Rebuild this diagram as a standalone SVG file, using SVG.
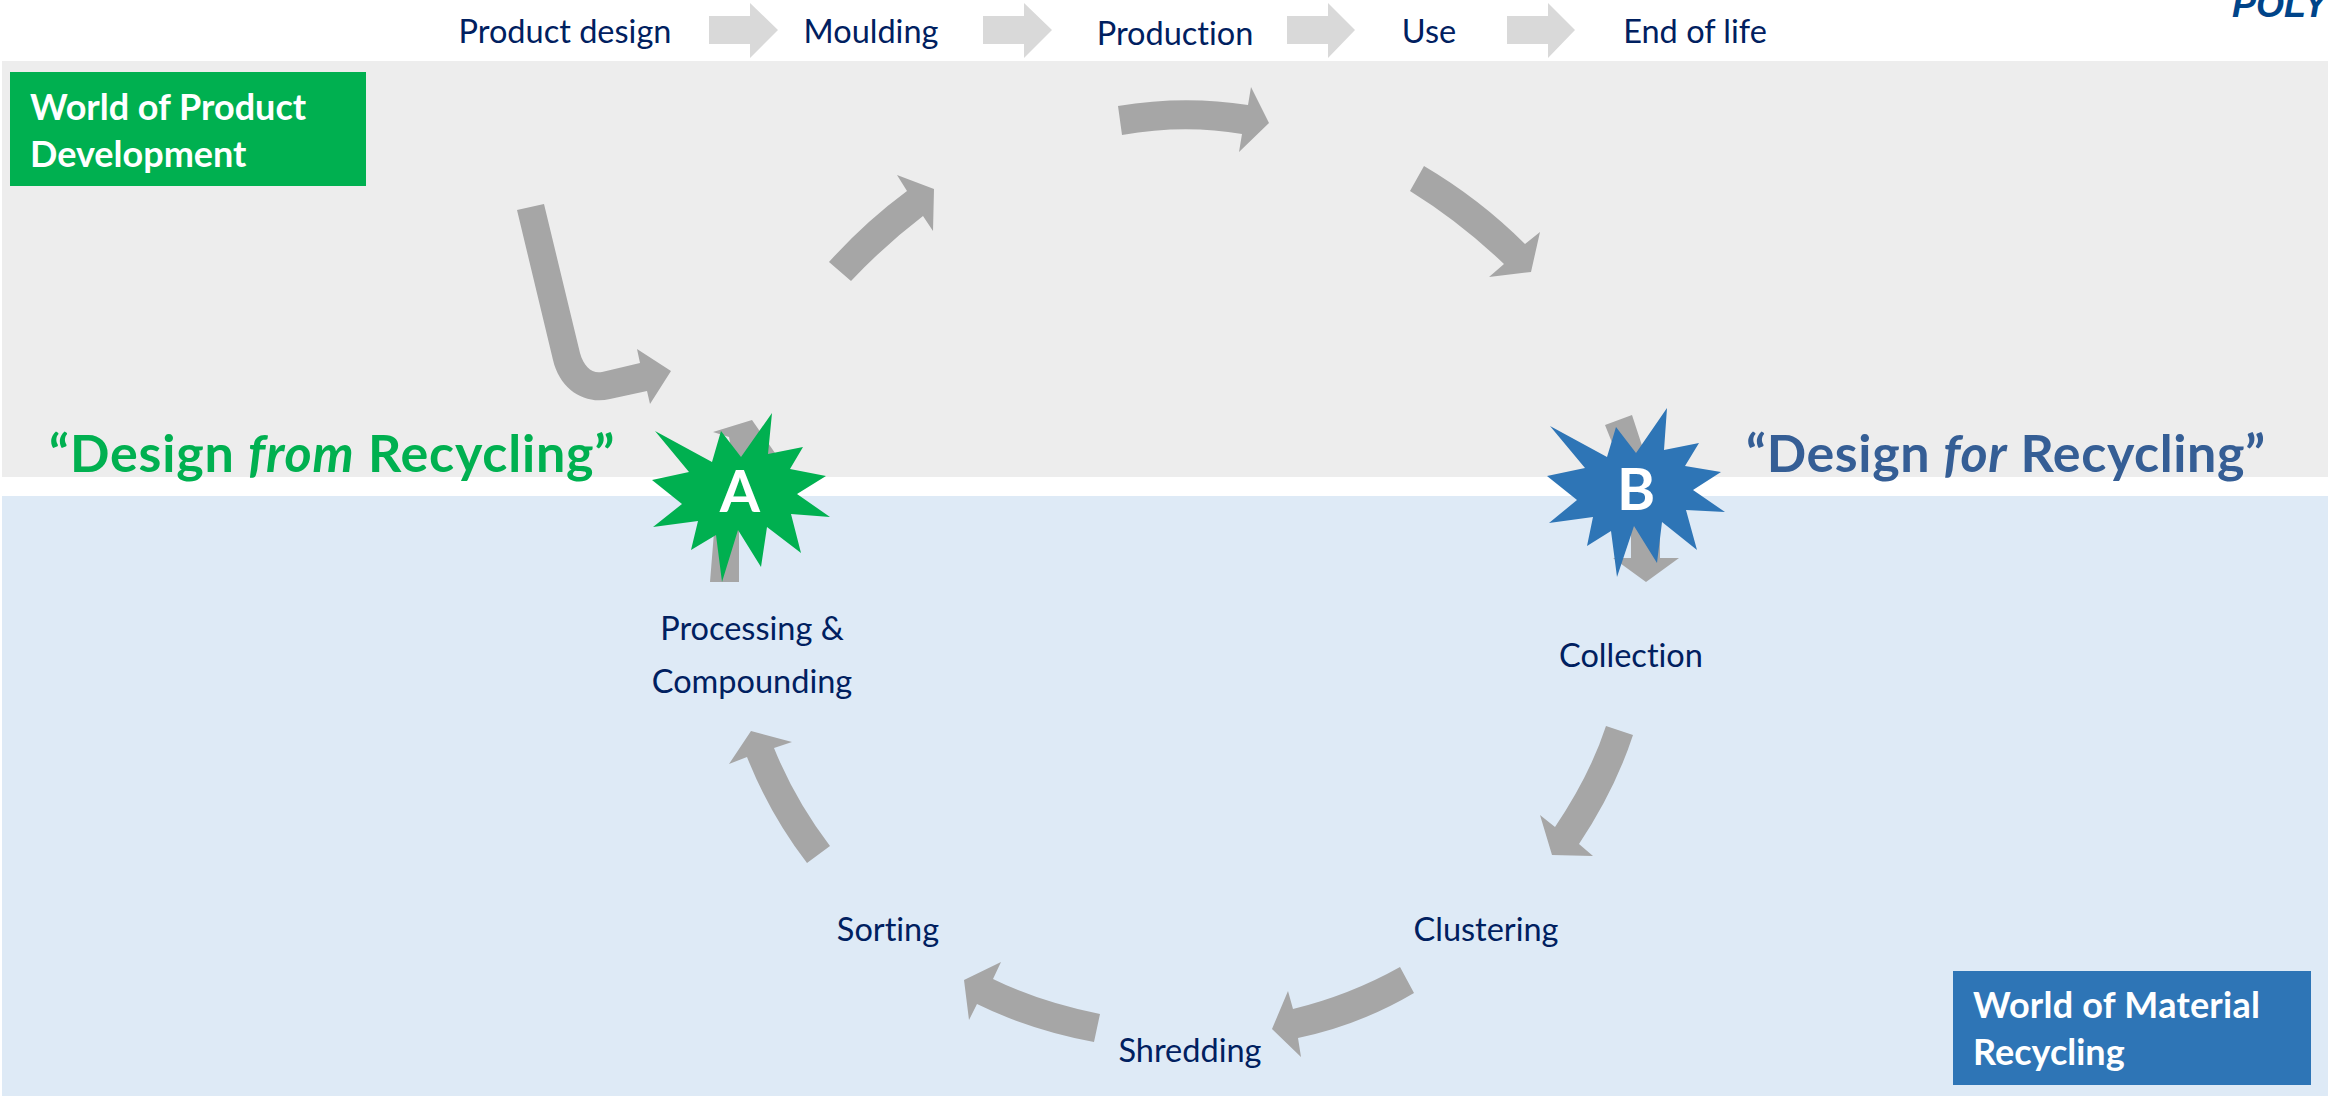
<svg xmlns="http://www.w3.org/2000/svg" width="2328" height="1096" viewBox="0 0 2328 1096">
<style>
text{font-variant-ligatures:none}
.lb{font-family:Lato,"Open Sans",sans-serif;font-size:32.5px;fill:#002060;text-anchor:middle}
.ch{fill:#d9d9d9}
.ar{fill:#a6a6a6}
.hd{font-family:Lato,"Open Sans",sans-serif;font-size:36px;font-weight:700;fill:#fff}
.qt{font-family:Lato,"Open Sans",sans-serif;font-size:52px;font-weight:700}
.st{font-family:Lato,"Open Sans",sans-serif;font-size:58px;font-weight:700;fill:#fff;text-anchor:middle}
</style>
<rect width="2328" height="1096" fill="#fff"/>
<rect id="band-product" x="2" y="61" width="2326" height="416" fill="#ededed"/>
<rect id="band-material" x="2" y="496" width="2326" height="600" fill="#deeaf6"/>
<text x="2232" y="17" font-family="Liberation Sans,sans-serif" font-size="36" font-weight="700" font-style="italic" fill="#004489">POLY</text>
<g id="connectors">
<path class="ch" d="M709 16H750V3L778 30L750 58V44H709Z"/>
<path class="ch" d="M983 16H1024V3L1052 30L1024 58V44H983Z"/>
<path class="ch" d="M1287 16H1328V3L1355 30L1328 58V44H1287Z"/>
<path class="ch" d="M1507 16H1548V3L1575 30L1548 58V44H1507Z"/>
<path class="ar" d="M517 210L544 204L580 353C584 367 592 374 602 372L640 363L637 349L671 371L650 404L647 391L610 399C585 405 560 390 553 360Z"/>
<path class="ar" d="M829 262Q865 222 907 191L897 175L934 189L933 231L923 216Q885 245 851 281Z"/>
<path class="ar" d="M1118 106Q1184 95 1248 105L1251 87L1269 123L1239 152L1242 134Q1184 124 1122 135Z"/>
<path class="ar" d="M1424 166Q1480 199 1525 244L1540 232L1531 272L1489 277L1504 264Q1460 222 1410 191Z"/>
<path class="ar" d="M710 582H739V520L745 470L775 453L752 420L713 432L729 437L735 470L715 520Z"/>
<path class="ar" d="M1605 425L1632 415L1650 470L1660 520V558H1679L1646 582L1613 558H1631V500L1615 450Z"/>
<path class="ar" d="M1606 726L1633 735Q1615 790 1579 844L1593 856L1552 855L1540 815L1555 827Q1590 775 1606 726Z"/>
<path class="ar" d="M1400 967L1414 993Q1360 1025 1298 1038L1301 1057L1272 1029L1288 991L1293 1009Q1350 995 1400 967Z"/>
<path class="ar" d="M1100 1014L1094 1042Q1030 1030 977 1004L969 1020L964 980L1001 962L993 979Q1040 1002 1100 1014Z"/>
<path class="ar" d="M830 846L807 863Q770 815 747 757L729 764L751 731L792 742L774 748Q795 800 830 846Z"/>
</g>
<text class="lb" x="565" y="43">Product design</text>
<text class="lb" x="871" y="43">Moulding</text>
<text class="lb" x="1175" y="45">Production</text>
<text class="lb" x="1429" y="43">Use</text>
<text class="lb" x="1695" y="43">End of life</text>
<g id="world-product"><rect x="10" y="72" width="356" height="114" fill="#00b050"/><text class="hd" x="30" y="120">World of Product</text><text class="hd" x="30" y="167">Development</text></g>
<text class="qt" x="49" y="472" fill="#00b050" letter-spacing="0.8">“Design <tspan font-style="italic">from</tspan> Recycling”</text>
<text class="qt" x="1746" y="472" fill="#355e95" letter-spacing="0.6">“Design <tspan font-style="italic">for</tspan> Recycling”</text>
<g id="star-a"><polygon fill="#00b050" points="772,413 768,454 803,447 790,469 826,476 797,494 830,517 791,514 801,553 767,527 761,567 738,530 722,582 716,535 691,550 698,521 653,527 682,504 652,480 689,472 655,431 712,462 721,431 741,457"/><text class="st" x="740" y="512">A</text></g>
<g id="star-b"><polygon fill="#2e75b6" points="1667,408 1664,450 1699,443 1685,466 1721,472 1693,490 1725,512 1686,510 1697,550 1662,522 1657,563 1634,526 1617,577 1611,531 1587,546 1593,517 1549,523 1577,500 1547,476 1585,468 1550,426 1607,457 1616,427 1636,453"/><text class="st" x="1636" y="510">B</text></g>
<g id="n-processing"><text class="lb" x="752" y="640">Processing &amp;</text><text class="lb" x="752" y="693">Compounding</text></g>
<g id="n-collection"><text class="lb" x="1631" y="667">Collection</text></g>
<g id="n-clustering"><text class="lb" x="1486" y="941">Clustering</text></g>
<g id="n-sorting"><text class="lb" x="888" y="941">Sorting</text></g>
<g id="n-shredding"><text class="lb" x="1190" y="1062">Shredding</text></g>
<g id="world-material"><rect x="1953" y="971" width="358" height="114" fill="#2e75b6"/><text class="hd" x="1973" y="1018" letter-spacing="0.25">World of Material</text><text class="hd" x="1973" y="1065">Recycling</text></g>
</svg>
